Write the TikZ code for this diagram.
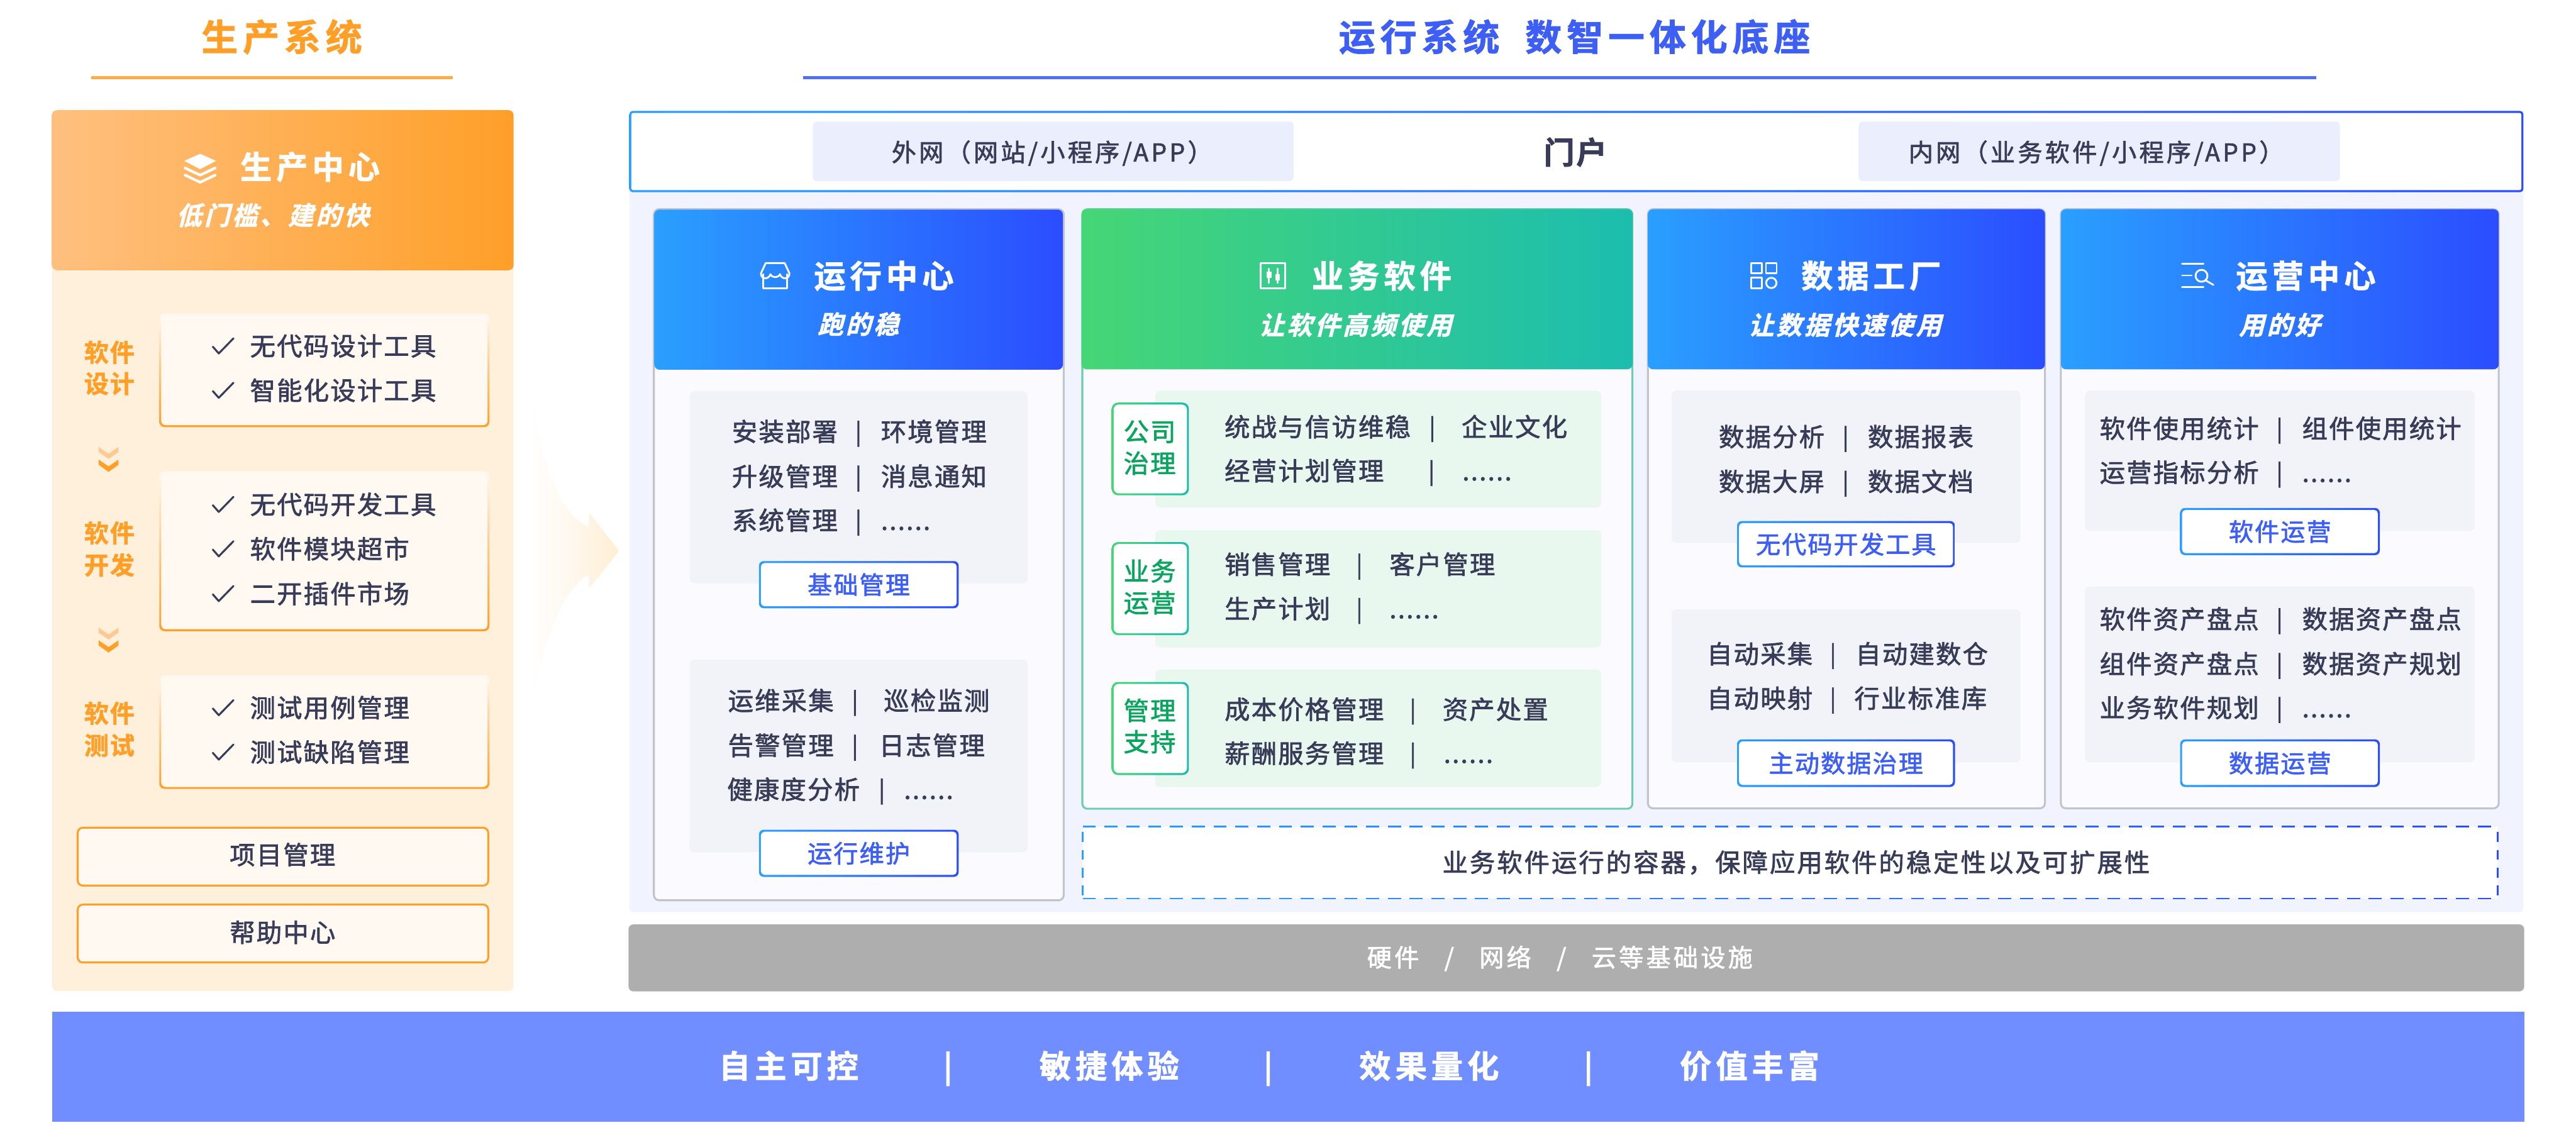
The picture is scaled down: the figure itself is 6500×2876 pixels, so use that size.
\documentclass[tikz,border=0pt]{standalone}
\usepackage{fontspec}
\setmainfont{Noto Sans CJK SC}
\newfontfamily\fm{Noto Sans CJK SC}[LetterSpace=5.5,FakeBold=1.8]
\newfontfamily\fmc{Noto Sans CJK SC}[LetterSpace=7.5,FakeBold=1.8]
\newfontfamily\fmw{Noto Sans CJK SC}[LetterSpace=11,FakeBold=1.8]
\newfontfamily\fbw{Noto Sans CJK SC Bold}[LetterSpace=13.5,FakeBold=1.5]
\newfontfamily\fbn{Noto Sans CJK SC Bold}[LetterSpace=5,FakeBold=1.5]
\newfontfamily\fsl{Noto Sans CJK SC Bold}[LetterSpace=10,FakeSlant=0.25,FakeBold=1.5]
\definecolor{ink}{HTML}{383C59}
\definecolor{orA}{HTML}{FF9F28}
\definecolor{orB}{HTML}{FFC07F}
\definecolor{orP}{HTML}{FFF0DC}
\definecolor{orF}{HTML}{FFF9F2}
\definecolor{bA}{HTML}{2A9FFF}
\definecolor{bB}{HTML}{2B4DFF}
\definecolor{gA}{HTML}{46D676}
\definecolor{gB}{HTML}{1CBDAF}
\definecolor{btn}{HTML}{3D5FF5}
\definecolor{tagt}{HTML}{0AA55F}
\definecolor{pan}{HTML}{F1F4FF}
\definecolor{pale}{HTML}{EBEFFD}
\definecolor{grayb}{HTML}{F1F3F9}
\definecolor{greenb}{HTML}{E8F8EF}
\definecolor{colf}{HTML}{FBFBFF}
\definecolor{colb}{HTML}{C1C4CE}
\definecolor{colg}{HTML}{6ECDAE}
\definecolor{band}{HTML}{708EFF}
\definecolor{gband}{HTML}{AEAEAE}
\definecolor{arr}{HTML}{FFEED4}
\newcounter{tn}
\newcommand{\tx}[6][]{\stepcounter{tn}\edef\tnm{t\arabic{tn}}%
\pgfmathsetmacro\tsz{#4*0.2845}\pgfmathsetmacro\tha{0.88*#4*0.01}\pgfmathsetmacro\tda{0.12*#4*0.01}%
\node[inner sep=0,outer sep=0,text height=\tha cm,text depth=\tda cm,#1] (\tnm) at (#2,#3) {#5\fontsize{\tsz}{\tsz}\selectfont #6};}
\newcommand{\bx}[6]{\pgfmathsetmacro\bxw{(#5-#3)*0.01}\pgfmathsetmacro\bxh{(#6-#4)*0.01}%
\node[inner sep=0,outer sep=0,minimum width=\bxw cm,minimum height=\bxh cm,anchor=north west,#1] (#2) at (#3,#4) {};}
% outlined box with a shaded border: outer style, inner style, border width
\newcommand{\gb}[8]{\bx{#6}{#1o}{#2}{#3}{#4}{#5}%
\pgfmathsetmacro\gx{#2+#8}\pgfmathsetmacro\gy{#3+#8}\pgfmathsetmacro\gX{#4-#8}\pgfmathsetmacro\gY{#5-#8}%
\bx{#7}{#1}{\gx}{\gy}{\gX}{\gY}}
\newcommand{\rowt}[6]{\tx[anchor=west,text=ink]{#2}{#1}{64}{\fm}{#3}\tx[text=ink]{#4}{#1}{58}{\fm}{|}\tx[anchor=west,text=ink]{#5}{#1}{64}{\fm}{#6}}
\newcommand{\chk}[2]{\draw[ink,line width=1.4pt,line cap=round,line join=round] (537,#2+2) -- (552,#2+19) -- (589,#2-19);\tx[anchor=west,text=ink]{631}{#2}{64}{\fm}{#1}}
\newcommand{\chev}[1]{\fill[orB!85!white] (249,#1) -- (274,#1+17) -- (299,#1) -- (299,#1+13) -- (274,#1+30) -- (249,#1+13) -- cycle;
\fill[orA] (249,#1+32) -- (274,#1+49) -- (299,#1+32) -- (299,#1+45) -- (274,#1+63) -- (249,#1+45) -- cycle;}
\newcommand{\btnb}[6]{\gb{#1}{#2}{#3}{#4}{#5}{rounded corners=0.12cm,left color=bA,right color=bB}{rounded corners=0.09cm,fill=white}{5}%
\tx[text=btn]{\fpeval{(#2+#4)/2}}{\fpeval{(#3+#5)/2}}{62}{\fm}{#6}}
\tikzset{hdrb/.style={rounded corners=0.13cm,left color=bA,right color=bB},
hdrg/.style={rounded corners=0.13cm,left color=gA,right color=gB},
colbox/.style={rounded corners=0.13cm,draw=colb,line width=1.4pt,fill=colf},
colgbox/.style={rounded corners=0.13cm,draw=colg,line width=1.4pt,fill=colf},
grayp/.style={rounded corners=0.12cm,fill=grayb},
greenp/.style={rounded corners=0.12cm,fill=greenb},
orbox/.style={rounded corners=0.13cm,draw=orA,line width=1.4pt,fill=orF},
oro/.style={rounded corners=0.13cm,top color=orF,bottom color=orA,middle color=orA!55!orF},
ori/.style={rounded corners=0.11cm,fill=orF},
tago/.style={rounded corners=0.16cm,left color=gA,right color=gB},
tagi/.style={rounded corners=0.13cm,fill=white},
ico/.style={white,line width=1.3pt,line cap=round,line join=round}}
\begin{document}
\begin{tikzpicture}[x=0.01cm,y=-0.01cm]
\useasboundingbox (0,0) rectangle (6500,2876);
\fill[white] (0,0) rectangle (6500,2876);
% titles
\tx[text=orA]{711}{93}{92}{\fbw}{生产系统}
\draw[orA!85!white,line width=2pt] (230,196) -- (1142,196);
\tx[text=btn]{3973}{93}{92}{\fbw}{运行系统\hspace{0.65cm}数智一体化底座}
\draw[btn!90!white,line width=2pt] (2027,196) -- (5845,196);
% left panel
\bx{rounded corners=0.13cm,fill=orP}{lpanel}{131}{500}{1296}{2501}
\bx{rounded corners=0.13cm,left color=orB,right color=orA}{lhead}{131}{278}{1296}{682}
\fill[white] (505,388) -- (545,406) -- (505,427) -- (465,406) -- cycle;
\draw[ico,line width=1.9pt] (467,424) -- (505,442) -- (543,424);
\draw[ico,line width=1.9pt] (467,442) -- (505,460) -- (543,442);
\tx[anchor=west,text=white]{606}{421}{80}{\fbw}{生产中心}
\tx[anchor=west,text=white]{445}{543}{64}{\fsl}{低门槛、建的快}
\gb{b1}{402}{792}{1235}{1078}{oro}{ori}{5}
\gb{b2}{402}{1190}{1235}{1593}{oro}{ori}{5}
\gb{b3}{402}{1704}{1235}{1991}{oro}{ori}{5}
\tx[text=orA]{276}{889}{62}{\fbn}{软件}
\tx[text=orA]{276}{968}{62}{\fbn}{设计}
\tx[text=orA]{276}{1345}{62}{\fbn}{软件}
\tx[text=orA]{276}{1426}{62}{\fbn}{开发}
\tx[text=orA]{276}{1800}{62}{\fbn}{软件}
\tx[text=orA]{276}{1881}{62}{\fbn}{测试}
\chev{1128}
\chev{1584}
\chk{无代码设计工具}{873}
\chk{智能化设计工具}{985}
\chk{无代码开发工具}{1273}
\chk{软件模块超市}{1385}
\chk{二开插件市场}{1498}
\chk{测试用例管理}{1786}
\chk{测试缺陷管理}{1898}
\bx{orbox}{bpm}{196}{2089}{1232}{2235}
\bx{orbox}{bhelp}{196}{2283}{1232}{2429}
\tx[text=ink]{713}{2157}{64}{\fm}{项目管理}
\tx[text=ink]{713}{2353}{64}{\fm}{帮助中心}
% arrow
\shade[left color=white,right color=arr,middle color=arr!45!white,rounded corners=0.03cm] (1337,912) .. controls (1350,1130) and (1400,1290) .. (1486,1330) -- (1486,1293) -- (1562,1390) -- (1486,1486) -- (1486,1451) .. controls (1430,1480) and (1375,1590) .. (1337,1792) -- cycle;
% right backdrop
\bx{rounded corners=0.1cm,fill=pan}{rpanel}{1588}{400}{6367}{2302}
\gb{portal}{1588}{280}{6367}{485}{rounded corners=0.08cm,left color=bA,right color=bB}{rounded corners=0.05cm,fill=white}{5}
\bx{rounded corners=0.1cm,fill=pale}{outnet}{2051}{307}{3264}{457}
\bx{rounded corners=0.1cm,fill=pale}{innet}{4690}{307}{5904}{457}
\tx[anchor=west,text=ink]{2250}{384}{62}{\fmw}{外网（网站/小程序/APP）}
\tx[text=ink]{3975}{384}{78}{\fbn}{门户}
\tx[anchor=west,text=ink]{4816}{384}{62}{\fmw}{内网（业务软件/小程序/APP）}
% column 1
\bx{colbox}{c1}{1650}{528}{2684}{2272}
\bx{hdrb}{h1}{1651}{529}{2682}{933}
\draw[ico] (1926,692) -- (1926,727) -- (1986,727) -- (1986,692);
\draw[ico] (1932,664) -- (1980,664) -- (1992,690) .. controls (1992,706) and (1972,706) .. (1968,692) .. controls (1964,702) and (1948,702) .. (1944,692) .. controls (1940,706) and (1920,706) .. (1920,690) -- cycle;
\tx[anchor=west,text=white]{2054}{696}{80}{\fbw}{运行中心}
\tx[text=white]{2166}{818}{64}{\fsl}{跑的稳}
\bx{grayp}{p1}{1740}{987}{2593}{1472}
\rowt{1089}{1847}{安装部署}{2166}{2223}{环境管理}
\rowt{1202}{1847}{升级管理}{2166}{2223}{消息通知}
\rowt{1313}{1847}{系统管理}{2166}{2223}{......}
\btnb{bn1}{1915}{1416}{2419}{1535}{基础管理}
\bx{grayp}{p2}{1740}{1665}{2593}{2151}
\rowt{1768}{1837}{运维采集}{2157}{2230}{巡检监测}
\rowt{1881}{1837}{告警管理}{2157}{2218}{日志管理}
\rowt{1992}{1835}{健康度分析}{2225}{2281}{......}
\btnb{bn2}{1915}{2094}{2419}{2213}{运行维护}
% column 2
\bx{colgbox}{c2}{2731}{528}{4119}{2041}
\bx{hdrg}{h2}{2729}{528}{4119}{932}
\draw[ico] (3181,664) rectangle (3243,727);
\draw[ico] (3202,678) -- (3202,714);
\draw[ico] (3224,678) -- (3224,714);
\fill[white] (3196,686) rectangle (3208,702);
\fill[white] (3218,692) rectangle (3230,708);
\tx[anchor=west,text=white]{3310}{696}{80}{\fbw}{业务软件}
\tx[text=white]{3420}{820}{64}{\fsl}{让软件高频使用}
\bx{greenp}{g1}{2915}{986}{4040}{1281}
\bx{greenp}{g2}{2915}{1338}{4040}{1634}
\bx{greenp}{g3}{2915}{1690}{4040}{1986}
\gb{tg1}{2805}{1016}{3000}{1250}{tago}{tagi}{5}
\gb{tg2}{2805}{1368}{3000}{1603}{tago}{tagi}{5}
\gb{tg3}{2805}{1721}{3000}{1956}{tago}{tagi}{5}
\tx[text=tagt]{2901}{1089}{64}{\fm}{公司}
\tx[text=tagt]{2901}{1169}{64}{\fm}{治理}
\tx[text=tagt]{2901}{1441}{64}{\fm}{业务}
\tx[text=tagt]{2901}{1521}{64}{\fm}{运营}
\tx[text=tagt]{2901}{1793}{64}{\fm}{管理}
\tx[text=tagt]{2901}{1872}{64}{\fm}{支持}
\rowt{1077}{3090}{统战与信访维稳}{3614}{3688}{企业文化}
\rowt{1188}{3090}{经营计划管理}{3612}{3690}{......}
\rowt{1424}{3090}{销售管理}{3430}{3506}{客户管理}
\rowt{1536}{3090}{生产计划}{3430}{3506}{......}
\rowt{1790}{3090}{成本价格管理}{3565}{3640}{资产处置}
\rowt{1901}{3090}{薪酬服务管理}{3565}{3643}{......}
% dashed container
\bx{fill=white}{cont}{2732}{2086}{6302}{2268}
\foreach \x in {2732,2787,...,6270}{\pgfmathsetmacro\p{(\x-2732)/35.7}
  \fill[bB!\p!bA] (\x,2084) rectangle ++(33,4);
  \fill[bB!\p!bA] (\x,2266) rectangle ++(33,4);}
\foreach \y in {2100,2145,...,2240}{
  \fill[bA] (2730,\y) rectangle ++(4,25);
  \fill[bB] (6300,\y) rectangle ++(4,25);}
\tx[text=ink]{4532}{2176}{64}{\fmc}{业务软件运行的容器，保障应用软件的稳定性以及可扩展性}
% column 3
\bx{colbox}{c3}{4158}{528}{5160}{2040}
\bx{hdrb}{h3}{4158}{528}{5160}{932}
\foreach \a/\b in {4418/664,4456/664,4418/701}{\draw[ico] (\a,\b) rectangle ++(27,26);}
\draw[ico] (4469.5,714) circle[radius=13];
\tx[anchor=west,text=white]{4545}{696}{80}{\fbw}{数据工厂}
\tx[text=white]{4655}{820}{64}{\fsl}{让数据快速使用}
\bx{grayp}{p3}{4218}{986}{5098}{1370}
\rowt{1102}{4337}{数据分析}{4657}{4713}{数据报表}
\rowt{1215}{4337}{数据大屏}{4657}{4713}{数据文档}
\btnb{bn3}{4383}{1315}{4933}{1432}{无代码开发工具}
\bx{grayp}{p4}{4218}{1538}{5098}{1924}
\rowt{1650}{4307}{自动采集}{4625}{4682}{自动建数仓}
\rowt{1762}{4307}{自动映射}{4625}{4679}{行业标准库}
\btnb{bn4}{4383}{1866}{4933}{1986}{主动数据治理}
% column 4
\bx{colbox}{c4}{5200}{528}{6305}{2040}
\bx{hdrb}{h4}{5200}{528}{6305}{932}
\draw[ico] (5506,666) -- (5560,666);
\draw[ico] (5506,695) -- (5530,695);
\draw[ico] (5506,725) -- (5560,725);
\draw[ico] (5555,696) circle[radius=15];
\draw[ico] (5566,708) -- (5585,719);
\tx[anchor=west,text=white]{5642}{696}{80}{\fbw}{运营中心}
\tx[text=white]{5752}{820}{64}{\fsl}{用的好}
\bx{grayp}{p5}{5261}{986}{6244}{1340}
\rowt{1081}{5298}{软件使用统计}{5752}{5809}{组件使用统计}
\rowt{1192}{5298}{运营指标分析}{5752}{5809}{......}
\btnb{bn5}{5501}{1282}{6005}{1401}{软件运营}
\bx{grayp}{p6}{5261}{1480}{6244}{1924}
\rowt{1562}{5298}{软件资产盘点}{5752}{5809}{数据资产盘点}
\rowt{1675}{5298}{组件资产盘点}{5752}{5809}{数据资产规划}
\rowt{1786}{5298}{业务软件规划}{5752}{5809}{......}
\btnb{bn6}{5501}{1866}{6005}{1986}{数据运营}
% gray band
\bx{rounded corners=0.12cm,fill=gband}{gb}{1586}{2333}{6369}{2502}
\tx[text=white]{3936}{2416}{62}{\fmw}{硬件\hspace{0.64cm}/\hspace{0.64cm}网络\hspace{0.64cm}/\hspace{0.64cm}云等基础设施}
% blue band
\bx{fill=band}{bb}{131}{2554}{6369}{2831}
\tx[text=white]{1990}{2690}{80}{\fbw}{自主可控}
\tx[text=white]{2392}{2690}{76}{\fbn}{|}
\tx[text=white]{2799}{2690}{80}{\fbw}{敏捷体验}
\tx[text=white]{3200}{2690}{76}{\fbn}{|}
\tx[text=white]{3606}{2690}{80}{\fbw}{效果量化}
\tx[text=white]{4008}{2690}{76}{\fbn}{|}
\tx[text=white]{4415}{2690}{80}{\fbw}{价值丰富}
\end{tikzpicture}
\end{document}
